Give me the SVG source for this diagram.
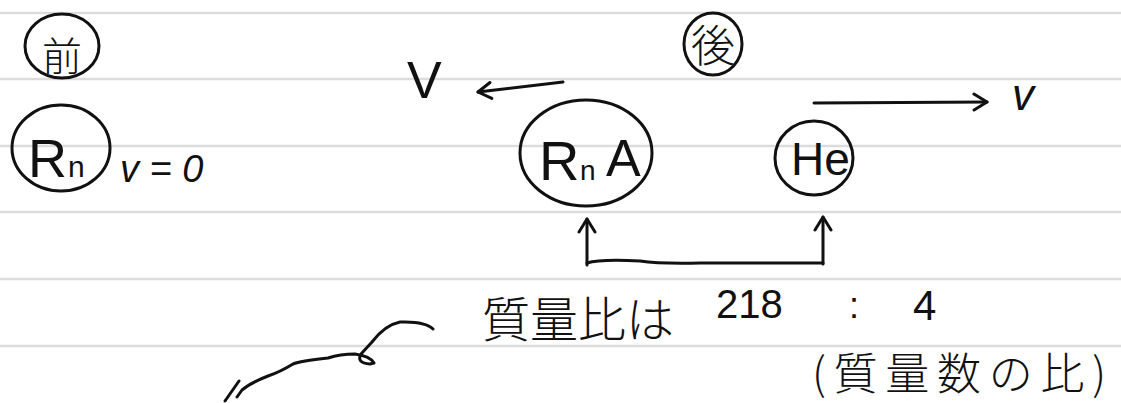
<svg xmlns="http://www.w3.org/2000/svg" width="1121" height="403" viewBox="0 0 1121 403">
<defs>
<style>
.rule{stroke:#dcdcdc;stroke-width:2.5}
.ink{fill:none;stroke:#111;stroke-width:3;stroke-linecap:round;stroke-linejoin:round}
.t{fill:#111;font-family:"Liberation Sans","Noto Sans CJK JP",sans-serif}
.j{fill:#111;font-family:"Noto Sans CJK JP",sans-serif;font-weight:300}
</style>
<marker id="ah" viewBox="0 0 20 20" refX="17" refY="10" markerWidth="20" markerHeight="20" markerUnits="userSpaceOnUse" orient="auto">
<path d="M4,2 L17,10 L4,18" fill="none" stroke="#111" stroke-width="3" stroke-linecap="round" stroke-linejoin="round"/>
</marker>
</defs>
<rect width="1121" height="403" fill="#fff"/>
<g id="rules">
<line class="rule" x1="0" y1="13" x2="1121" y2="13"/>
<line class="rule" x1="0" y1="79" x2="1121" y2="79"/>
<line class="rule" x1="0" y1="146" x2="1121" y2="146"/>
<line class="rule" x1="0" y1="212" x2="1121" y2="212"/>
<line class="rule" x1="0" y1="279" x2="1121" y2="279"/>
<line class="rule" x1="0" y1="346" x2="1121" y2="346"/>
</g>
<g id="mae">
<ellipse class="ink" cx="62" cy="46" rx="37" ry="32"/>
<text class="j" x="62" y="71" font-size="40" text-anchor="middle">前</text>
</g>
<g id="rn-before">
<ellipse class="ink" cx="61" cy="148" rx="49" ry="43"/>
<text class="t" x="28" y="177" font-size="54">R</text>
<text class="t" x="68" y="177" font-size="30">n</text>
<text class="t" x="120" y="182" font-size="38" font-style="italic">v = 0</text>
</g>
<g id="ato">
<ellipse class="ink" cx="713" cy="44" rx="29" ry="31"/>
<text class="j" x="713" y="62" font-size="44" text-anchor="middle">後</text>
</g>
<g id="V-label">
<text class="t" x="407" y="98" font-size="52">V</text>
</g>
<g id="rna">
<ellipse class="ink" cx="586" cy="153" rx="66" ry="53"/>
<text class="t" x="539" y="180" font-size="56">R</text>
<text class="t" x="580" y="180" font-size="28">n</text>
<text class="t" x="606" y="176" font-size="52">A</text>
</g>
<g id="he">
<ellipse class="ink" cx="814" cy="158" rx="39" ry="37"/>
<text class="t" x="791" y="175" font-size="46">He</text>
</g>
<g id="v-label">
<text class="t" x="1012" y="110" font-size="44" font-style="italic">v</text>
</g>
<g id="connectors">
<path class="ink" d="M563,82 L478,92" marker-end="url(#ah)"/>
<path class="ink" d="M814,103 L987,102" marker-end="url(#ah)"/>
<path class="ink" d="M587,265 L587,219" marker-end="url(#ah)"/>
<path class="ink" d="M823,264 L823,217" marker-end="url(#ah)"/>
<path class="ink" d="M587,263 Q600,259 640,261 Q660,264 700,263 L823,263"/>
<path class="ink" d="M433,329 Q425,321 400,322 Q385,325 372,342 L361,354 Q356,363 370,364 L374,363 Q370,356 355,354 Q340,354 328,358 Q300,361 293,364 Q280,372 268,376 Q250,383 242,390 L237,397"/>
<path class="ink" d="M239,381 L225,401"/>
</g>
<g id="ratio">
<text class="j" x="482" y="337" font-size="48">質量比は</text>
<text class="t" x="716" y="318" font-size="40">218</text>
<text class="t" x="849" y="318" font-size="36">:</text>
<text class="t" x="913" y="320" font-size="42">4</text>
<text class="j" x="812" y="390" font-size="44" textLength="294" lengthAdjust="spacing">(質量数の比)</text>
</g>
</svg>
